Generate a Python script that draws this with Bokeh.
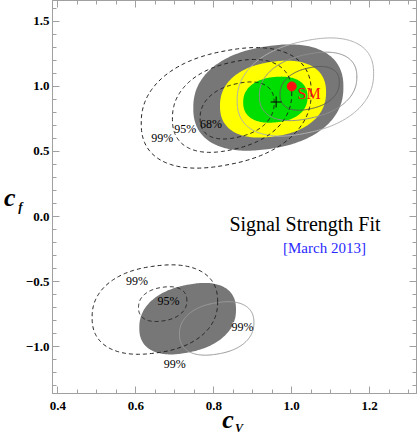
import numpy as np
from bokeh.plotting import figure
from bokeh.models import (Range1d, LinearAxis, SingleIntervalTicker,
                          CustomJSTickFormatter)
from bokeh.embed import file_html
from bokeh.resources import INLINE

# ---------------- data ----------------
# each confidence region: centre, half-extent in x and y, correlation rho
best_fit = [0.96, 0.88]
sm_point = [1.0, 1.0]

# filled regions of the main fit (positive and negative c_f branch)
fill_cx = [0.940, 0.952, 0.958, 0.733]
fill_cy = [0.914, 0.902, 0.898, -0.785]
fill_rx = [0.1925, 0.136, 0.0825, 0.124]
fill_ry = [0.4035, 0.2925, 0.176, 0.270]
fill_rho = [0.20, 0.18, 0.12, 0.26]

# dashed contours (second fit)
dash_cx = [0.860, 0.847, 0.832, 0.669, 0.649]
dash_cy = [0.815, 0.850, 0.835, -0.673, -0.715]
dash_rx = [0.095, 0.153, 0.218, 0.062, 0.161]
dash_ry = [0.215, 0.350, 0.455, 0.132, 0.340]
dash_rho = [0.28, 0.28, 0.26, 0.20, 0.18]

# solid grey contours (third fit)
solid_cx = [1.046, 1.042, 1.035, 0.8075]
solid_cy = [0.985, 1.000, 0.995, -0.860]
solid_rx = [0.076, 0.125, 0.175, 0.0955]
solid_ry = [0.165, 0.258, 0.370, 0.2025]
solid_rho = [0.28, 0.28, 0.28, 0.22]

# contour labels
clabel_text = ["99%", "95%", "68%", "99%", "95%", "99%", "99%"]
clabel_x = [0.668, 0.727, 0.793, 0.603, 0.684, 0.874, 0.700]
clabel_y = [0.606, 0.672, 0.714, -0.498, -0.648, -0.848, -1.136]
clabel_on_white = [True, True, False, True, False, True, True]

x_ticks_interval = 0.2
y_ticks_interval = 0.5

# ---------------- styles ----------------
fill_colors = ["#777777", "#ffff00", "#00dd00", "#777777"]
solid_colors = ["#5a5a5a", "#8e8e8e", "#b0b0b0", "#9a9a9a"]
SHAPE = 2.3  # superellipse exponent (contours are a bit fuller than ellipses)
NB = "\u00a0"


def ellipse(cx, cy, rx, ry, rho, n=240):
    t = np.linspace(0, 2 * np.pi, n)
    u = np.sign(np.cos(t)) * np.abs(np.cos(t)) ** (2 / SHAPE)
    v = np.sign(np.sin(t)) * np.abs(np.sin(t)) ** (2 / SHAPE)
    x = cx + rx * u
    y = cy + ry * (rho * u + np.sqrt(1 - rho ** 2) * v)
    return list(x), list(y)


def build(cxs, cys, rxs, rys, rhos):
    xs, ys = [], []
    for a in zip(cxs, cys, rxs, rys, rhos):
        x, y = ellipse(*a)
        xs.append(x)
        ys.append(y)
    return xs, ys


p = figure(width=417, height=437, output_backend="svg", toolbar_location=None,
           x_range=Range1d(0.3864, 1.32), y_range=Range1d(-1.36, 1.66),
           x_axis_type=None, y_axis_type=None,
           min_border_left=51, min_border_right=1, min_border_top=0,
           min_border_bottom=44)
p.outline_line_color = "#a0a0a0"
p.background_fill_color = "white"
p.border_fill_color = "white"

fmt = CustomJSTickFormatter(code="""
    if (Math.abs(tick) < 1e-9) { return '0.0'; }
    return tick.toFixed(1).replace('-', '\\u2212');
""")
blank = CustomJSTickFormatter(code="return '';")


def style_axis(ax, labels=True):
    ax.axis_line_color = "#a0a0a0"
    ax.major_tick_line_color = "#a0a0a0"
    ax.minor_tick_line_color = "#a0a0a0"
    ax.major_tick_in = 7
    ax.major_tick_out = 0
    ax.minor_tick_in = 4
    ax.minor_tick_out = 0
    if labels:
        ax.formatter = fmt
        ax.major_label_text_font = "Liberation Serif"
        ax.major_label_text_font_style = "bold"
        ax.major_label_text_font_size = "13px"
        ax.major_label_text_color = "black"
    else:
        ax.formatter = blank
        ax.major_label_standoff = 0
        ax.axis_label_standoff = 0


def label_axis(ax, text, size, standoff):
    # an axis that only carries a (part of an) axis title
    ax.formatter = blank
    ax.axis_line_color = None
    ax.major_tick_line_color = None
    ax.minor_tick_line_color = None
    ax.major_tick_in = 0
    ax.major_tick_out = 0
    ax.minor_tick_in = 0
    ax.minor_tick_out = 0
    ax.major_label_standoff = 0
    ax.axis_label = text
    ax.axis_label_standoff = standoff
    ax.axis_label_text_font = "Liberation Serif"
    ax.axis_label_text_font_style = "bold italic"
    ax.axis_label_text_font_size = size
    ax.axis_label_text_color = "black"


# x axis (bottom) with "c" and a subscript "V"
xb = LinearAxis(ticker=SingleIntervalTicker(interval=x_ticks_interval, num_minor_ticks=4))
style_axis(xb)
xb.major_label_standoff = 8
xb.axis_label = "c" + NB * 2
xb.axis_label_standoff = -8
xb.axis_label_text_font = "Liberation Serif"
xb.axis_label_text_font_style = "bold italic"
xb.axis_label_text_font_size = "26px"
xb.axis_label_text_color = "black"
p.add_layout(xb, "below")
xv = LinearAxis(ticker=SingleIntervalTicker(interval=x_ticks_interval))
label_axis(xv, NB * 3 + "V", "12px", -16)
p.add_layout(xv, "below")

# y axis (left) with "c" and a subscript "f"
yl = LinearAxis(ticker=SingleIntervalTicker(interval=y_ticks_interval, num_minor_ticks=5))
style_axis(yl)
yl.major_label_standoff = 3
p.add_layout(yl, "left")
yf = LinearAxis(ticker=SingleIntervalTicker(interval=y_ticks_interval))
label_axis(yf, NB + "\nf", "13px", 0)
yf.axis_label_orientation = "horizontal"
p.add_layout(yf, "left")
yc = LinearAxis(ticker=SingleIntervalTicker(interval=y_ticks_interval))
label_axis(yc, "c", "26px", 0)
yc.axis_label_orientation = "horizontal"
p.add_layout(yc, "left")

# frame ticks on top and right
xt = LinearAxis(ticker=SingleIntervalTicker(interval=x_ticks_interval, num_minor_ticks=4))
style_axis(xt, labels=False)
p.add_layout(xt, "above")
yr = LinearAxis(ticker=SingleIntervalTicker(interval=y_ticks_interval, num_minor_ticks=5))
style_axis(yr, labels=False)
p.add_layout(yr, "right")

# filled regions
fx, fy = build(fill_cx, fill_cy, fill_rx, fill_ry, fill_rho)
p.patches(fx, fy, fill_color=fill_colors, line_color=None)

# solid contours
sx, sy = build(solid_cx, solid_cy, solid_rx, solid_ry, solid_rho)
p.multi_line(sx, sy, line_color=solid_colors, line_width=1)

# dashed contours
dx, dy = build(dash_cx, dash_cy, dash_rx, dash_ry, dash_rho)
p.multi_line(dx, dy, line_color="#222222", line_width=1, line_dash="4 3")

# white gaps in the contour lines behind the labels that sit on white
wx = [x for x, w in zip(clabel_x, clabel_on_white) if w]
wy = [y for y, w in zip(clabel_y, clabel_on_white) if w]
p.rect(x=wx, y=wy, width=20, height=9, width_units="screen",
       height_units="screen", fill_color="white", line_color=None)

# contour labels
p.text(clabel_x, clabel_y, text=clabel_text, text_font_size="12px",
       text_font={"value": "Liberation Serif"}, text_align="center",
       text_baseline="middle", text_color="black")

# best fit and SM
p.scatter([best_fit[0]], [best_fit[1]], marker="cross", size=11,
          line_color="black", line_width=1)
p.scatter([sm_point[0]], [sm_point[1]], marker="circle", size=9,
          fill_color="#ff1010", line_color="#ff1010")
p.text([1.015], [0.945], text=["SM"], text_font_size="16px",
       text_font={"value": "Liberation Serif"}, text_color="#ff1010",
       text_align="left", text_baseline="middle")

# titles
p.text([1.034], [-0.06], text=["Signal Strength Fit"], text_font_size="20px",
       text_font={"value": "Liberation Serif"}, text_color="black",
       text_align="center", text_baseline="middle")
p.text([1.084], [-0.24], text=["[March 2013]"], text_font_size="15px",
       text_font={"value": "Liberation Serif"}, text_color="#2a2aff",
       text_align="center", text_baseline="middle")

open("out.html", "w").write(file_html(p, INLINE))
